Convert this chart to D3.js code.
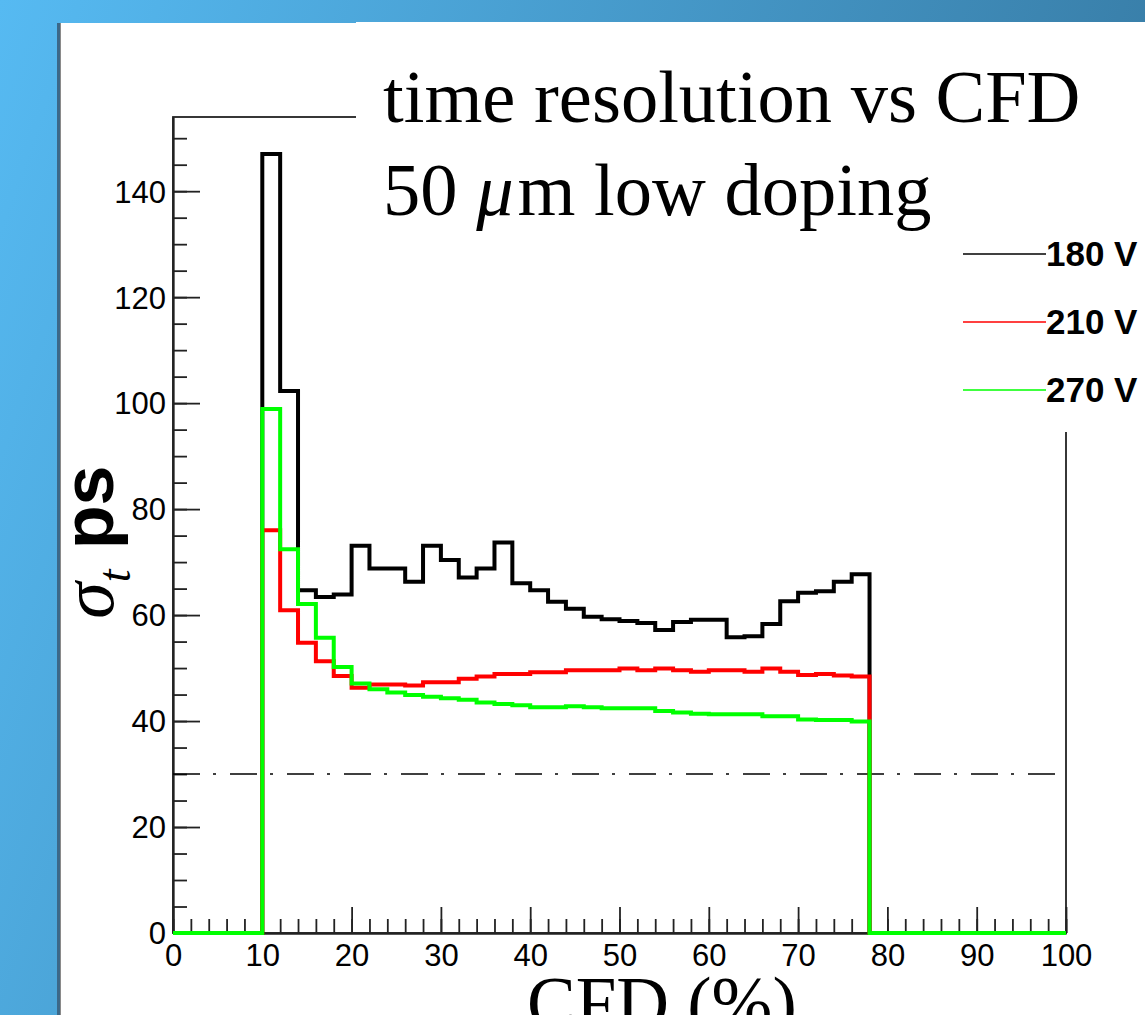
<!DOCTYPE html>
<html>
<head>
<meta charset="utf-8">
<script src="https://cdn.jsdelivr.net/npm/d3@7"></script>
<style>
 body { margin: 0; background: #fff; }
 svg { display: block; }
 .axis path, .axis line { stroke: #222; stroke-width: 1.8; }
 .axis text { font-family: "Liberation Sans", Arial, sans-serif; font-size: 31px; fill: #000; }
</style>
</head>
<body>
<svg width="1145" height="1015"></svg>
<script>
// lower edge of each filled CFD bin (%), bin width 2
const cfdBins = [10, 12, 14, 16, 18, 20, 22, 24, 26, 28, 30, 32, 34, 36, 38, 40, 42,
 44, 46, 48, 50, 52, 54, 56, 58, 60, 62, 64, 66, 68, 70, 72, 74, 76];
const binWidth = 2;

// sigma_t (ps) per bin
const sigma180 = [147, 102.3, 64.7, 63.4, 63.9, 73.1, 68.8, 68.8, 66.3, 73.1, 70.4, 67.1,
 68.8, 73.7, 66.0, 64.7, 62.5, 61.2, 59.7, 59.2, 58.9, 58.5, 57.2, 58.7, 59.1, 59.1, 55.8,
 56.0, 58.3, 62.6, 64.2, 64.5, 66.3, 67.7];
const sigma210 = [76.0, 60.9, 54.8, 51.3, 48.5, 46.3, 46.9, 46.9, 46.7, 47.3, 47.3, 48.0,
 48.4, 48.9, 48.9, 49.2, 49.2, 49.6, 49.6, 49.6, 49.9, 49.6, 49.9, 49.6, 49.3, 49.6, 49.6,
 49.3, 49.9, 49.3, 48.7, 48.9, 48.6, 48.4];
const sigma270 = [98.9, 72.4, 62.1, 55.7, 50.2, 47.1, 46.0, 45.4, 44.9, 44.6, 44.3, 44.0,
 43.5, 43.2, 43.0, 42.6, 42.6, 42.8, 42.6, 42.4, 42.4, 42.4, 41.9, 41.6, 41.4, 41.3, 41.3,
 41.3, 40.9, 40.9, 40.3, 40.2, 40.2, 39.9];

const seriesNames = ["180 V", "210 V", "270 V"];
const seriesColors = ["#000000", "#ff0000", "#00ff00"];
const seriesValues = [sigma180, sigma210, sigma270];

const xMajorTicks = [0, 10, 20, 30, 40, 50, 60, 70, 80, 90, 100];
const yMajorTicks = [0, 20, 40, 60, 80, 100, 120, 140];
const refLevel = 30;

const svg = d3.select("svg");

// slide background
const defs = svg.append("defs");
const grad = defs.append("linearGradient")
 .attr("id", "bg")
 .attr("gradientUnits", "userSpaceOnUse")
 .attr("x1", 0).attr("y1", 0).attr("x2", 1145).attr("y2", 400);
grad.append("stop").attr("offset", 0).attr("stop-color", "#56baf2");
grad.append("stop").attr("offset", 1).attr("stop-color", "#3679a2");

svg.append("rect").attr("width", 1145).attr("height", 1015).attr("fill", "url(#bg)");
svg.append("rect").attr("x", 57).attr("y", 23).attr("width", 4).attr("height", 992).attr("fill", "#3c6888");
svg.append("rect").attr("x", 60).attr("y", 23).attr("width", 1).attr("height", 992).attr("fill", "#8a8a8a");
svg.append("rect").attr("x", 61).attr("y", 23).attr("width", 1084).attr("height", 992).attr("fill", "#fff");

const x = d3.scaleLinear().domain([0, 100]).range([173, 1066]);
const y = d3.scaleLinear().domain([0, 154]).range([933, 117]);

// frame
svg.append("rect")
 .attr("x", x(0)).attr("y", y(154))
 .attr("width", x(100) - x(0)).attr("height", y(0) - y(154))
 .attr("fill", "none").attr("stroke", "#222").attr("stroke-width", 1.8);

// axes, ticks pointing inward
const yAxis = svg.append("g").attr("class", "axis").attr("transform", `translate(${x(0)},0)`);
yAxis.call(d3.axisLeft(y).tickValues(d3.range(0, 151, 5)).tickSize(-14).tickSizeOuter(0).tickFormat(""));
yAxis.call(g => g.append("g").call(
 d3.axisLeft(y).tickValues(yMajorTicks).tickSize(-27).tickSizeOuter(0).tickPadding(7)));
yAxis.selectAll("text").attr("dy", "0.35em");

const xAxis = svg.append("g").attr("class", "axis").attr("transform", `translate(0,${y(0)})`);
xAxis.call(d3.axisBottom(x).tickValues(d3.range(0, 101, 2)).tickSize(-14).tickSizeOuter(0).tickFormat(""));
xAxis.call(g => g.append("g").call(
 d3.axisBottom(x).tickValues(xMajorTicks).tickSize(-26).tickSizeOuter(0).tickPadding(11)));

// dash-dot reference at 30 ps
svg.append("line")
 .attr("x1", x(0)).attr("x2", x(99.6))
 .attr("y1", y(refLevel)).attr("y2", y(refLevel))
 .attr("stroke", "#000").attr("stroke-width", 1.5)
 .attr("stroke-dasharray", "27 13 3 14");

// step histograms
const line = d3.line().x(d => x(d[0])).y(d => y(d[1]));
seriesValues.forEach((vals, k) => {
 const pts = [[0, 0], [cfdBins[0], 0]];
 cfdBins.forEach((b, i) => {
  pts.push([b, vals[i]], [b + binWidth, vals[i]]);
 });
 const last = cfdBins[cfdBins.length - 1] + binWidth;
 pts.push([last, 0], [100, 0]);
 svg.append("path")
  .attr("d", line(pts))
  .attr("fill", "none")
  .attr("stroke", seriesColors[k])
  .attr("stroke-width", 4)
  .attr("stroke-linejoin", "miter");
});

// title and legend boxes (cover the frame)
svg.append("rect").attr("x", 356).attr("y", 22).attr("width", 789).attr("height", 210).attr("fill", "#fff");
svg.append("rect").attr("x", 945).attr("y", 117).attr("width", 200).attr("height", 315).attr("fill", "#fff");

const serif = "'Liberation Serif', 'Times New Roman', serif";
const sans = "'Liberation Sans', Arial, sans-serif";

const title = svg.append("g").attr("font-family", serif).attr("font-size", 74.5).attr("fill", "#000");
title.append("text").attr("x", 383).attr("y", 122).text("time resolution vs CFD");
const t2 = title.append("text").attr("x", 383).attr("y", 215);
t2.append("tspan").text("50 ");
t2.append("tspan").attr("font-style", "italic").text("\u03bc");
t2.append("tspan").attr("dx", 4).text("m low doping");

// legend
const legend = svg.append("g");
seriesNames.forEach((name, k) => {
 const ly = 254 + k * 68;
 legend.append("line")
  .attr("x1", 963).attr("x2", 1046).attr("y1", ly).attr("y2", ly)
  .attr("stroke", seriesColors[k]).attr("stroke-width", 1.3);
 legend.append("text")
  .attr("x", 1046).attr("y", ly + 12)
  .attr("font-family", sans).attr("font-weight", "bold").attr("font-size", 35)
  .text(name);
});

// axis titles
const yt = svg.append("text")
 .attr("transform", "translate(113,542) rotate(-90)")
 .attr("text-anchor", "middle");
yt.append("tspan").attr("font-family", serif).attr("font-style", "italic").attr("font-size", 74).text("\u03c3");
yt.append("tspan").attr("font-family", serif).attr("font-style", "italic").attr("font-size", 46).attr("dy", 17).text("t");
yt.append("tspan").attr("font-family", sans).attr("font-weight", "bold").attr("font-size", 72).attr("dy", -17).text(" ps");

svg.append("text")
 .attr("x", 527).attr("y", 1028)
 .attr("font-family", serif).attr("font-size", 73)
 .text("CFD (%)");
</script>
</body>
</html>
